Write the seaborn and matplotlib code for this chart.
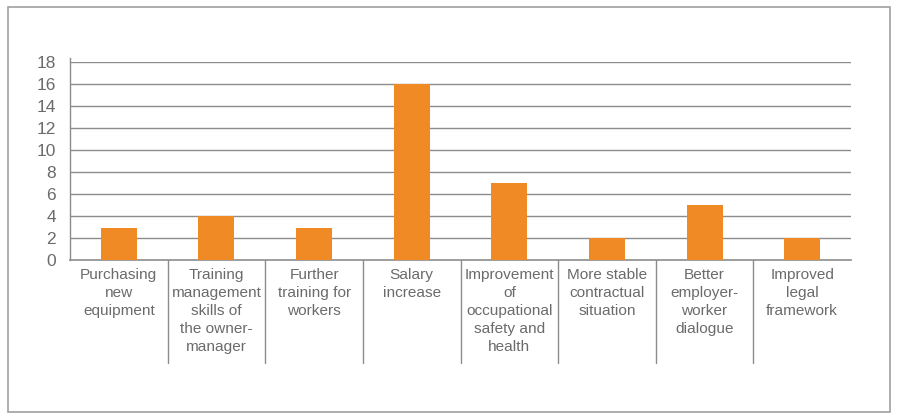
import matplotlib
matplotlib.use("Agg")
import matplotlib.pyplot as plt
import matplotlib.patches as patches
import seaborn as sns
import pandas as pd

# data
categories = [
    "Purchasing\nnew\nequipment",
    "Training\nmanagement\nskills of\nthe owner-\nmanager",
    "Further\ntraining for\nworkers",
    "Salary\nincrease",
    "Improvement\nof\noccupational\nsafety and\nhealth",
    "More stable\ncontractual\nsituation",
    "Better\nemployer-\nworker\ndialogue",
    "Improved\nlegal\nframework",
]
values = [2.9, 4, 2.9, 16, 7, 2, 5, 2]
y_ticks = list(range(0, 20, 2))

df = pd.DataFrame({"category": categories, "value": values})

sns.set_style("white")
plt.rcParams["font.family"] = ["Liberation Sans", "DejaVu Sans"]

grey = "#8c8c8c"
text_grey = "#6b6b6b"

fig = plt.figure(figsize=(8.97, 4.19), dpi=100)
ax = fig.add_axes([70 / 897, 1 - 260 / 419, 781 / 897, 198 / 419])

sns.barplot(data=df, x="category", y="value", color="#F08A24",
            width=0.37, saturation=1, linewidth=0, ax=ax, zorder=3)

ax.set_ylim(0, 18)
ax.set_xlim(-0.5, len(categories) - 0.5)
ax.set_yticks(y_ticks)
ax.set_xlabel("")
ax.set_ylabel("")

# horizontal grid
for t in y_ticks[1:]:
    ax.axhline(t, color=grey, linewidth=1, zorder=1)

for s in ["top", "right"]:
    ax.spines[s].set_visible(False)
ax.spines["left"].set_color(grey)
ax.spines["bottom"].set_color(grey)
ax.spines["left"].set_linewidth(1)
ax.spines["bottom"].set_linewidth(1.2)
ax.spines["left"].set_bounds(0, 18.4)

ax.tick_params(axis="y", length=8, width=1, color=grey, labelsize=12.5,
               labelcolor=text_grey, pad=2)
ax.tick_params(axis="x", length=0, labelsize=11.1, labelcolor=text_grey, pad=6)
for lbl in ax.get_xticklabels():
    lbl.set_linespacing(1.36)
    lbl.set_verticalalignment("top")

# category separators extending below the axis
trans = ax.get_xaxis_transform()
for i in range(1, len(categories)):
    ax.plot([i - 0.5, i - 0.5], [0, -103 / 198], transform=trans,
            color=grey, linewidth=1, clip_on=False)

# outer frame
fig.add_artist(patches.Rectangle((8 / 897, 7 / 419), 882 / 897, 405 / 419,
                                 transform=fig.transFigure, fill=False,
                                 edgecolor="#a0a0a0", linewidth=1.2))

fig.savefig("out.png", dpi=100)
